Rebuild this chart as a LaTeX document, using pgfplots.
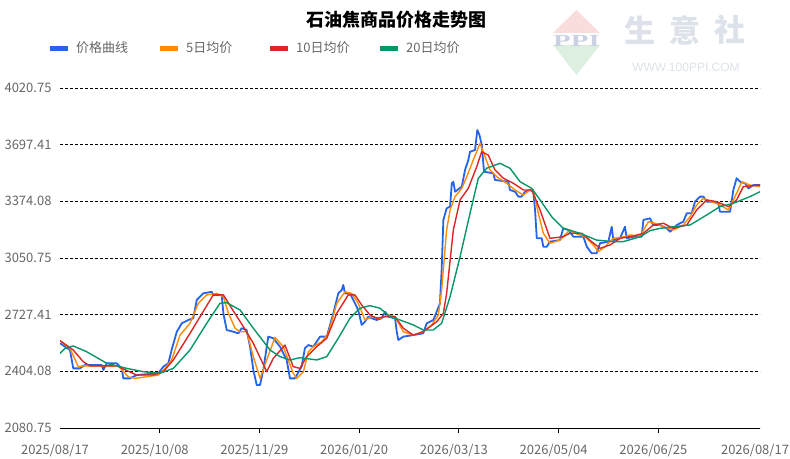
\documentclass[border=0pt]{standalone}
\usepackage{pgfplots}
\pgfplotsset{compat=1.18}
\usepackage{fontspec}
\setmainfont{Noto Sans CJK SC}
\newfontfamily\wwwfont{Liberation Sans}
\newfontfamily\ppifont{Liberation Serif}
\definecolor{cBlue}{HTML}{2563EB}
\definecolor{cOrange}{HTML}{FF8C00}
\definecolor{cRed}{HTML}{DC2626}
\definecolor{cGreen}{HTML}{059669}
\definecolor{labelgray}{HTML}{666666}
\definecolor{wmPink}{HTML}{F9DCDC}
\definecolor{wmGreen}{HTML}{DCEFE0}
\definecolor{wmText}{HTML}{DDE2EA}
\definecolor{wmPPI}{HTML}{C9D1E2}
\begin{document}
\begin{tikzpicture}[x=1pt,y=1pt]
\path[use as bounding box] (0,0) rectangle (790,458);
% watermark
\fill[wmPink] (553,425) -- (600,425) -- (576.5,448) -- cycle;
\fill[wmGreen] (553,413) -- (600,413) -- (576.5,383) -- cycle;
\node[text=wmPPI, font=\ppifont\bfseries\fontsize{17}{17}\selectfont, xscale=1.7] at (576.5,417) {PPI};
\node[text=wmText, font=\bfseries\fontsize{31}{31}\selectfont] at (640,428) {生};
\node[text=wmText, font=\bfseries\fontsize{31}{31}\selectfont] at (685,428) {意};
\node[text=wmText, font=\bfseries\fontsize{31}{31}\selectfont] at (730,428) {社};
\node[text=wmText, font=\wwwfont\fontsize{12}{12}\selectfont] at (686,391) {WWW.100PPI.COM};
% title
\node[font=\bfseries\fontsize{18}{20}\selectfont] at (396,438) {石油焦商品价格走势图};
\begin{axis}[
  at={(60pt,30pt)}, anchor=south west,
  scale only axis, width=700pt, height=340pt,
  xmin=0, xmax=365, ymin=2080.75, ymax=4020.75,
  axis x line*=bottom, axis y line*=left,
  x axis line style={-, black, line width=1pt},
  y axis line style={draw=none},
  xtick={52,104,156,208,260,312},
  xticklabels={2025/10/08,2025/11/29,2026/01/20,2026/03/13,2026/05/04,2026/06/25},
  extra x ticks={0,365},
  extra x tick labels={2025/08/17,2026/08/17},
  extra x tick style={major tick length=0pt, grid=none, xticklabel style={yshift=-5pt}},
  tick align=outside,
  major tick length=5pt,
  xtick style={black, line width=1pt},
  ytick={2080.75,2404.08,2727.41,3050.75,3374.08,3697.41,4020.75},
  yticklabels={2080.75,2404.08,2727.41,3050.75,3374.08,3697.41,4020.75},
  ytick style={draw=none},
  ymajorgrids,
  major grid style={black, line width=0.7pt, dash pattern=on 3pt off 2pt},
  ticklabel style={font=\fontsize{13}{15}\selectfont, text=labelgray},
  xticklabel style={xshift=-5pt, yshift=-8pt},
  /pgf/number format/assume math mode=true,
  legend columns=4,
  legend style={at={(axis description cs:-0.0186,1.117)}, anchor=west,
    draw=none, fill=none, inner sep=0pt,
    font=\fontsize{13}{15}\selectfont, text=labelgray,
    /tikz/every odd column/.append style={column sep=6pt},
    /tikz/every even column/.append style={column sep=0pt},
    nodes={inner sep=0pt}},
  legend image code/.code={\draw[line width=5pt] (0pt,0pt) -- (18pt,0pt);},
  line join=round,
]
\addplot[cBlue, line width=1.8pt] coordinates {
(0,2564) (5.2,2526) (6.9,2421) (10.4,2421) (13.0,2440) (21.7,2440) (22.6,2412) (24.4,2450) (29.6,2450) (32.2,2421) (33.0,2364) (36.5,2364) (40.0,2383) (51.3,2393) (53.9,2431) (56.5,2450) (58.2,2526) (60.9,2630) (63.5,2678) (66.9,2697) (69.5,2707) (71.3,2811) (74.7,2849) (79.1,2858) (79.9,2840) (84.3,2840) (85.2,2735) (86.9,2640) (90.4,2630) (93.0,2621) (94.7,2650) (97.3,2640) (99.1,2545) (100.8,2412) (102.6,2326) (104.3,2326) (106.0,2412) (108.6,2602) (111.2,2593) (114.7,2545) (118.2,2469) (119.9,2364) (122.5,2364) (126.0,2431) (127.7,2536) (129.5,2554) (132.1,2545) (135.6,2602) (139.1,2602) (142.5,2735) (145.1,2849) (146.9,2868) (147.7,2897) (148.6,2849) (151.2,2849) (153.8,2792) (155.5,2754) (157.3,2669) (159.0,2687) (160.8,2716) (162.5,2707) (165.1,2697) (167.7,2707) (169.5,2744) (171.2,2716) (174.7,2707) (175.6,2630) (176.4,2583) (179.0,2602) (184.2,2611) (189.4,2621) (191.2,2678) (194.7,2697) (196.4,2744) (198.1,2792) (199.0,2982) (199.9,3268) (201.6,3334) (203.4,3344) (204.3,3477) (205.1,3486) (206.0,3429) (209.5,3458) (211.2,3553) (212.9,3610) (213.8,3657) (216.4,3667) (217.6,3781) (218.7,3753) (219.9,3696) (221.1,3543) (226.0,3534) (226.8,3496) (233.8,3486) (234.6,3439) (237.3,3429) (239.0,3401) (240.7,3401) (242.5,3429) (245.1,3439) (246.8,3429) (247.7,3325) (248.6,3163) (251.2,3163) (252.0,3115) (253.8,3115) (255.5,3144) (260.7,3153) (262.4,3220) (265.0,3211) (267.7,3172) (272.9,3172) (274.7,3115) (277.2,3078) (279.8,3078) (281.6,3135) (285.9,3144) (287.7,3229) (288.5,3153) (292.0,3163) (294.6,3229) (295.5,3163) (298.9,3172) (303.3,3172) (304.2,3268) (307.6,3277) (309.4,3239) (312.9,3239) (316.4,3220) (318.1,3201) (321.6,3239) (325.0,3258) (326.8,3306) (329.4,3306) (331.1,3372) (333.7,3401) (335.5,3401) (337.2,3372) (340.7,3372) (343.3,3363) (344.1,3315) (349.4,3315) (351.1,3439) (352.8,3506) (354.6,3486) (357.2,3477) (359.0,3448) (361.5,3467) (365,3467)
};
\addlegendentry{\makebox[81pt][l]{价格曲线}}
\addplot[cOrange, line width=1.4pt] coordinates {
(0,2579) (5.2,2535) (9.5,2431) (12.1,2435) (22.6,2435) (30.4,2435) (35.6,2373) (39.1,2364) (51.3,2383) (54.8,2421) (58.2,2469) (62.6,2611) (67.8,2678) (72.1,2792) (76.5,2840) (81.7,2849) (85.2,2830) (87.8,2735) (91.3,2650) (93.9,2630) (97.4,2630) (100.8,2488) (104.3,2364) (107.8,2469) (112.1,2598) (116.4,2545) (121.6,2393) (123.4,2364) (126.9,2402) (129.5,2516) (132.1,2545) (136.5,2573) (139.9,2621) (144.3,2792) (148.6,2858) (152.1,2849) (155.5,2792) (159.0,2697) (162.5,2716) (166.9,2707) (171.2,2726) (174.7,2716) (179.0,2630) (184.2,2611) (189.4,2630) (193.8,2669) (197.3,2726) (199.0,2868) (201.6,3211) (203.4,3325) (206.0,3401) (209.5,3448) (212.1,3515) (215.5,3610) (219.0,3705) (221.6,3629) (224.2,3553) (227.7,3515) (232.9,3477) (237.3,3439) (241.6,3410) (245.1,3439) (246.8,3439) (249.4,3306) (252.0,3192) (255.5,3135) (260.7,3153) (265.9,3211) (268.5,3192) (273.8,3172) (278.1,3125) (280.7,3087) (284.2,3115) (288.5,3163) (292.9,3169) (297.2,3182) (302.5,3176) (306.8,3258) (310.3,3249) (314.6,3229) (319.8,3211) (325.0,3239) (328.5,3286) (332.0,3353) (335.4,3391) (339.8,3372) (344.1,3353) (348.5,3325) (352.0,3401) (355.5,3486) (359.8,3467) (365,3458)
};
\addlegendentry{\makebox[81pt][l]{5日均价}}
\addplot[cRed, line width=1.4pt] coordinates {
(0,2579) (6.9,2526) (12.1,2459) (15.6,2435) (29.6,2435) (40.0,2383) (48.6,2383) (53.9,2402) (59.1,2469) (67.8,2621) (79.9,2840) (85.2,2840) (89.5,2764) (95.6,2659) (100.8,2564) (107.8,2402) (111.2,2478) (117.3,2554) (121.6,2431) (125.1,2421) (128.6,2488) (133.9,2545) (139.1,2593) (144.3,2735) (150.3,2840) (153.8,2840) (157.3,2783) (161.6,2726) (165.1,2707) (169.5,2716) (174.7,2716) (179.0,2650) (184.2,2611) (189.4,2630) (196.4,2687) (199.9,2735) (201.6,2849) (205.1,3211) (208.6,3382) (212.9,3448) (217.3,3572) (219.9,3657) (223.3,3638) (226.8,3553) (231.2,3506) (236.4,3477) (241.6,3439) (246.0,3439) (250.3,3325) (255.5,3163) (262.4,3172) (265.9,3192) (272.0,3192) (277.2,3144) (281.6,3106) (286.8,3125) (292.0,3163) (298.9,3176) (304.2,3192) (309.4,3239) (314.6,3249) (319.8,3220) (326.8,3239) (332.0,3325) (337.2,3382) (342.4,3372) (348.5,3344) (352.8,3382) (356.3,3458) (365,3467)
};
\addlegendentry{\makebox[81pt][l]{10日均价}}
\addplot[cGreen, line width=1.4pt] coordinates {
(0,2507) (2.6,2535) (6.9,2549) (13.9,2516) (24.4,2450) (34.8,2421) (43.4,2402) (52.1,2393) (59.1,2421) (67.8,2526) (76.5,2678) (83.4,2792) (86.9,2796) (93.9,2754) (100.8,2650) (109.5,2526) (114.7,2488) (119.9,2469) (125.1,2482) (133.9,2469) (139.1,2488) (145.1,2593) (151.2,2707) (156.4,2764) (161.6,2779) (166.9,2764) (172.1,2716) (177.3,2697) (184.2,2669) (189.4,2640) (194.6,2640) (199.0,2678) (203.4,2830) (208.6,3058) (213.8,3306) (218.1,3505) (222.5,3563) (229.4,3591) (234.6,3563) (239.9,3486) (246.0,3448) (250.3,3382) (256.4,3286) (262.4,3220) (271.1,3192) (279.8,3153) (288.5,3144) (293.7,3144) (302.5,3172) (307.7,3207) (312.9,3220) (319.8,3229) (328.5,3239) (337.2,3296) (344.1,3344) (351.1,3363) (359.8,3401) (365,3429)
};
\addlegendentry{\makebox[60pt][l]{20日均价}}
\end{axis}
\end{tikzpicture}
\end{document}
